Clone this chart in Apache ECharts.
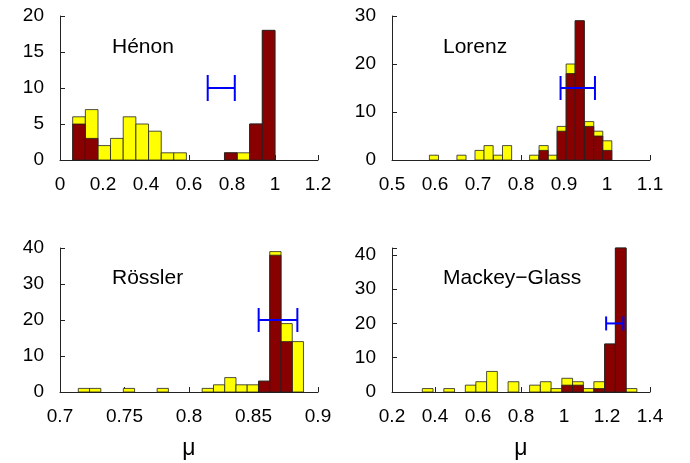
<!DOCTYPE html>
<html>
<head>
<meta charset="utf-8">
<script src="https://cdn.jsdelivr.net/npm/echarts@6/dist/echarts.min.js"></script>
<style>
  html, body { margin: 0; padding: 0; background: #fff; }
  #chart { width: 690px; height: 463px; }
</style>
</head>
<body>
<div id="chart"></div>
<script>
// bin left edges, bin width, counts (yellow = all, red = subset)
var henonEdges = [0.059, 0.118, 0.176, 0.235, 0.294, 0.353, 0.412, 0.471, 0.529, 0.588, 0.647, 0.706, 0.765, 0.824, 0.882, 0.941];
var henonWidth = 0.0588;
var henonAll = [6, 7, 2, 3, 6, 5, 4, 1, 1, 0, 0, 0, 1, 1, 5, 18];
var henonSub = [5, 3, 0, 0, 0, 0, 0, 0, 0, 0, 0, 0, 1, 0, 5, 18];
var henonErr = [0.75, 0.063, 10];

var lorenzEdges = [0.587, 0.608, 0.630, 0.651, 0.672, 0.693, 0.714, 0.736, 0.757, 0.778, 0.799, 0.820, 0.842, 0.863, 0.884, 0.905, 0.926, 0.948, 0.969, 0.990];
var lorenzWidth = 0.0212;
var lorenzAll = [1, 0, 0, 1, 0, 2, 3, 1, 3, 0, 0, 1, 3, 1, 7, 20, 29, 8, 6, 4];
var lorenzSub = [0, 0, 0, 0, 0, 0, 0, 0, 0, 0, 0, 0, 2, 0, 6, 18, 29, 7, 5, 2];
var lorenzErr = [0.932, 0.040, 15];

var rosslerEdges = [0.7142, 0.7229, 0.7317, 0.7404, 0.7491, 0.7579, 0.7666, 0.7753, 0.7840, 0.7928, 0.8015, 0.8102, 0.8190, 0.8277, 0.8364, 0.8451, 0.8539, 0.8626, 0.8713, 0.8800];
var rosslerWidth = 0.00873;
var rosslerAll = [1, 1, 0, 0, 1, 0, 0, 1, 0, 0, 0, 1, 2, 4, 2, 2, 3, 39, 19, 14];
var rosslerSub = [0, 0, 0, 0, 0, 0, 0, 0, 0, 0, 0, 0, 0, 0, 0, 0, 3, 38, 14, 0];
var rosslerErr = [0.869, 0.015, 20];

var mgEdges = [0.341, 0.391, 0.441, 0.491, 0.541, 0.590, 0.640, 0.690, 0.740, 0.790, 0.840, 0.890, 0.940, 0.990, 1.040, 1.089, 1.139, 1.189, 1.239, 1.289];
var mgWidth = 0.0499;
var mgAll = [1, 0, 1, 0, 2, 3, 6, 0, 3, 0, 2, 3, 1, 4, 3, 1, 3, 14, 42, 1];
var mgSub = [0, 0, 0, 0, 0, 0, 0, 0, 0, 0, 0, 0, 0, 2, 2, 0, 1, 14, 42, 0];
var mgErr = [1.236, 0.040, 20];

var panelNames = ['Hénon', 'Lorenz', 'Rössler', 'Mackey−Glass'];
var xRanges = [[0, 1.2, 0.2], [0.5, 1.1, 0.1], [0.7, 0.9, 0.05], [0.2, 1.4, 0.2]];
var yRanges = [[0, 20, 5], [0, 30, 10], [0, 40, 10], [0, 42, 10]];

var FONT = "'Liberation Sans', Arial, sans-serif";
var YELLOW = '#FFFF00';
var DARKRED = '#880000';
var BLUE = '#0000FF';

var panels = [
  { edges: henonEdges, width: henonWidth, all: henonAll, sub: henonSub, err: henonErr, cap: 13 },
  { edges: lorenzEdges, width: lorenzWidth, all: lorenzAll, sub: lorenzSub, err: lorenzErr, cap: 12 },
  { edges: rosslerEdges, width: rosslerWidth, all: rosslerAll, sub: rosslerSub, err: rosslerErr, cap: 12 },
  { edges: mgEdges, width: mgWidth, all: mgAll, sub: mgSub, err: mgErr, cap: 7 }
];

var gridPos = [
  { left: 60, top: 16, width: 258, height: 144 },
  { left: 392, top: 16, width: 258, height: 144 },
  { left: 60, top: 248, width: 258, height: 144 },
  { left: 392, top: 248, width: 258, height: 144 }
];

function renderBar(params, api) {
  var n = api.value(2);
  if (!n) return null;
  var x0 = api.value(0);
  var p0 = api.coord([x0, n]);
  var p1 = api.coord([x0 + api.value(1), 0]);
  return {
    type: 'rect',
    shape: { x: p0[0], y: p0[1], width: p1[0] - p0[0], height: p1[1] - p0[1] },
    style: { fill: api.visual('color'), stroke: '#222', lineWidth: 0.8 }
  };
}

function makeErrRender(cap) {
  return function (params, api) {
    var c = api.value(0), h = api.value(1), y = api.value(2);
    var a = api.coord([c - h, y]);
    var b = api.coord([c + h, y]);
    var st = { stroke: BLUE, lineWidth: 2 };
    return {
      type: 'group',
      children: [
        { type: 'line', shape: { x1: a[0], y1: a[1], x2: b[0], y2: b[1] }, style: st },
        { type: 'line', shape: { x1: a[0], y1: a[1] - cap, x2: a[0], y2: a[1] + cap }, style: st },
        { type: 'line', shape: { x1: b[0], y1: b[1] - cap, x2: b[0], y2: b[1] + cap }, style: st }
      ]
    };
  };
}

var grids = [], xAxes = [], yAxes = [], series = [], graphics = [];

panels.forEach(function (p, i) {
  grids.push(gridPos[i]);
  xAxes.push({
    type: 'value',
    gridIndex: i,
    min: xRanges[i][0],
    max: xRanges[i][1],
    interval: xRanges[i][2],
    name: i >= 2 ? 'μ' : '',
    nameLocation: 'middle',
    nameGap: 45,
    nameTextStyle: { fontFamily: FONT, fontSize: 23, color: '#000' },
    splitLine: { show: false },
    axisLine: { show: true, lineStyle: { color: '#222', width: 1 } },
    axisTick: { show: true, inside: true, length: 5, lineStyle: { color: '#222' } },
    axisLabel: { fontFamily: FONT, fontSize: 19, color: '#000', margin: 15, showMinLabel: true, showMaxLabel: true }
  });
  yAxes.push({
    type: 'value',
    gridIndex: i,
    min: yRanges[i][0],
    max: yRanges[i][1],
    interval: yRanges[i][2],
    splitLine: { show: false },
    axisLine: { show: true, lineStyle: { color: '#222', width: 1 } },
    axisTick: { show: true, inside: true, length: 5, lineStyle: { color: '#222' } },
    axisLabel: {
      fontFamily: FONT, fontSize: 19, color: '#000', margin: 16,
      formatter: function (v) { return v % yRanges[i][2] === 0 ? String(v) : ''; }
    }
  });
  series.push({
    type: 'custom',
    xAxisIndex: i,
    yAxisIndex: i,
    color: YELLOW,
    renderItem: renderBar,
    encode: { x: 0, y: 2 },
    data: p.edges.map(function (e, k) { return [e, p.width, p.all[k]]; }),
    z: 2
  });
  series.push({
    type: 'custom',
    xAxisIndex: i,
    yAxisIndex: i,
    color: DARKRED,
    renderItem: renderBar,
    encode: { x: 0, y: 2 },
    data: p.edges.map(function (e, k) { return [e, p.width, p.sub[k]]; }),
    z: 3
  });
  series.push({
    type: 'custom',
    xAxisIndex: i,
    yAxisIndex: i,
    renderItem: makeErrRender(p.cap),
    encode: { x: 0, y: 2 },
    data: [p.err],
    z: 4
  });
});

var titlePos = [[112, 47], [443, 47], [112, 278], [443, 278]];
panelNames.forEach(function (t, i) {
  graphics.push({
    type: 'text',
    left: titlePos[i][0],
    top: titlePos[i][1] - 10,
    style: { text: t, font: '21px ' + FONT, fill: '#000' }
  });
});

var myChart = echarts.init(document.getElementById('chart'));
myChart.setOption({
  animation: false,
  grid: grids,
  xAxis: xAxes,
  yAxis: yAxes,
  series: series,
  graphic: graphics
});
</script>
</body>
</html>
